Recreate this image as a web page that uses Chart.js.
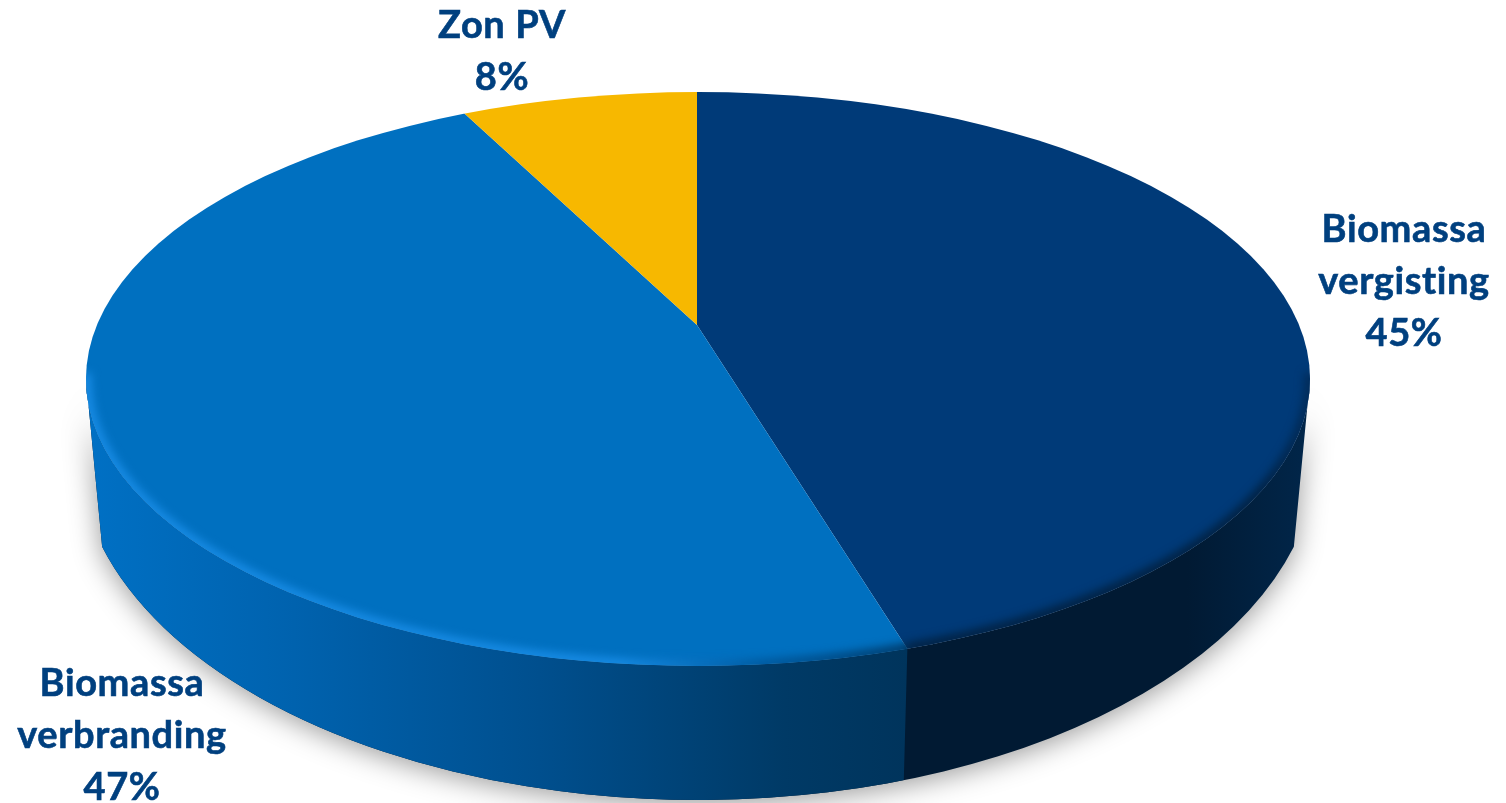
<!DOCTYPE html>
<html>
<head>
    <title>Zon PV en biomassa</title>
    <meta charset="UTF-8">
    <script src="https://cdn.jsdelivr.net/npm/chart.js"></script>
    <style>
        html, body {
            margin: 0;
            background: #fff;
            overflow: hidden;
        }
        canvas {
            display: block;
        }
    </style>
</head>
<body>
<canvas id="pieChart" width="1506" height="803"></canvas>

<script>
    const categories = ['Biomassa vergisting', 'Biomassa verbranding', 'Zon PV'];
    const shares = [45, 47, 8];
    const sliceColors = ['#003a78', '#0070c0', '#f7b800'];

    // each label is split over lines like in the picture
    const labelLines = [['Biomassa', 'vergisting'], ['Biomassa', 'verbranding'], ['Zon PV']];
    const labelSpots = [[1404, 242], [122, 696], [502, 38]];

    // tilted look: the slices meet at the apex, the rim is an ellipse around it
    const apex = { x: 697, y: 325 };
    const tilt = 0.5;
    const rim = { x: 698, y: 379, rx: 612, ry: 287 };
    const base = { x: 698, y: 450, rx: 620, ry: 350, start: 0.28 };
    const seamLean = 0.98;

    function wallPath(ctx) {
        ctx.beginPath();
        ctx.moveTo(rim.x + rim.rx, rim.y);
        ctx.ellipse(base.x, base.y, base.rx, base.ry, 0, base.start, Math.PI - base.start);
        ctx.lineTo(rim.x - rim.rx, rim.y);
        ctx.ellipse(rim.x, rim.y, rim.rx, rim.ry, 0, Math.PI, 0, true);
        ctx.closePath();
    }

    // where the edge of a slice hits the rim
    function rimPoint(angle) {
        const dx = Math.cos(angle);
        const dy = Math.sin(angle) * tilt;
        const ox = apex.x - rim.x;
        const oy = apex.y - rim.y;
        const a = dx * dx / (rim.rx * rim.rx) + dy * dy / (rim.ry * rim.ry);
        const b = 2 * (ox * dx / (rim.rx * rim.rx) + oy * dy / (rim.ry * rim.ry));
        const c = ox * ox / (rim.rx * rim.rx) + oy * oy / (rim.ry * rim.ry) - 1;
        const t = (-b + Math.sqrt(b * b - 4 * a * c)) / (2 * a);
        return { x: apex.x + t * dx, y: apex.y + t * dy };
    }

    const tiltPlugin = {
        id: 'tiltPlugin',
        beforeDatasetsDraw(chart) {
            const ctx = chart.ctx;
            const arcs = chart.getDatasetMeta(0).data;
            const seam = rimPoint(arcs[0].endAngle);
            const seamLowX = base.x + (seam.x - base.x) * seamLean;

            // side wall with its soft shadow
            ctx.save();
            ctx.shadowColor = 'rgba(0, 0, 0, 0.4)';
            ctx.shadowBlur = 28;
            ctx.shadowOffsetY = 4;
            wallPath(ctx);
            const dark = ctx.createLinearGradient(900, 0, 1310, 0);
            dark.addColorStop(0, '#011a33');
            dark.addColorStop(0.7, '#011a33');
            dark.addColorStop(1, '#01264a');
            ctx.fillStyle = dark;
            ctx.fill();
            ctx.restore();

            ctx.save();
            ctx.beginPath();
            ctx.moveTo(0, 0);
            ctx.lineTo(seam.x, 0);
            ctx.lineTo(seam.x, seam.y);
            ctx.lineTo(seamLowX, 803);
            ctx.lineTo(0, 803);
            ctx.closePath();
            ctx.clip();
            wallPath(ctx);
            const light = ctx.createLinearGradient(90, 0, seam.x, 0);
            light.addColorStop(0, '#0070c4');
            light.addColorStop(0.25, '#0062ae');
            light.addColorStop(0.55, '#004f8e');
            light.addColorStop(0.85, '#003a66');
            light.addColorStop(1, '#00345c');
            ctx.fillStyle = light;
            ctx.fill();
            ctx.restore();

            // top face, cut to the rim
            ctx.save();
            ctx.beginPath();
            ctx.ellipse(rim.x, rim.y, rim.rx, rim.ry, 0, 0, Math.PI * 2);
            ctx.clip();
            ctx.translate(apex.x, apex.y);
            ctx.scale(1, tilt);
            ctx.translate(-apex.x, -apex.y);
        },
        afterDatasetsDraw(chart) {
            const ctx = chart.ctx;
            ctx.restore();

            // bevel along the front of the rim
            const arcs = chart.getDatasetMeta(0).data;
            const seam = rimPoint(arcs[0].endAngle);
            ctx.save();
            ctx.beginPath();
            ctx.ellipse(rim.x, rim.y, rim.rx, rim.ry, 0, 0, Math.PI * 2);
            ctx.clip();
            const glow = ctx.createLinearGradient(86, 0, 1310, 0);
            const stop = x => (x - 86) / (1310 - 86);
            glow.addColorStop(0, '#1a8ee8');
            glow.addColorStop(stop(620), '#1a8ee8');
            glow.addColorStop(stop(760), '#00589c');
            glow.addColorStop(stop(seam.x - 1), '#003560');
            glow.addColorStop(stop(seam.x), '#011f3d');
            glow.addColorStop(stop(1260), '#011f3d');
            glow.addColorStop(1, '#012a55');
            ctx.filter = 'blur(5px)';
            ctx.strokeStyle = glow;
            ctx.lineWidth = 10;
            ctx.beginPath();
            ctx.ellipse(rim.x, rim.y, rim.rx, rim.ry, 0, -0.02, Math.PI + 0.02);
            ctx.stroke();
            ctx.restore();
        },
        afterDraw(chart) {
            const ctx = chart.ctx;
            ctx.save();
            ctx.font = 'bold 38px Lato';
            ctx.letterSpacing = '0.6px';
            ctx.fillStyle = '#00407f';
            ctx.strokeStyle = '#00407f';
            ctx.lineWidth = 0.6;
            ctx.textAlign = 'center';
            categories.forEach((name, i) => {
                const lines = labelLines[i].concat(shares[i] + '%');
                lines.forEach((line, j) => {
                    ctx.fillText(line, labelSpots[i][0], labelSpots[i][1] + j * 52);
                    ctx.strokeText(line, labelSpots[i][0], labelSpots[i][1] + j * 52);
                });
            });
            ctx.restore();
        }
    };

    new Chart(document.getElementById('pieChart').getContext('2d'), {
        type: 'pie',
        data: {
            labels: categories,
            datasets: [{
                data: shares,
                backgroundColor: sliceColors,
                borderWidth: 0,
                clip: false
            }]
        },
        options: {
            responsive: false,
            animation: false,
            radius: 760,
            layout: {
                padding: { left: 0, right: 112, top: 0, bottom: 153 }
            },
            events: [],
            plugins: {
                legend: { display: false },
                tooltip: { enabled: false }
            }
        },
        plugins: [tiltPlugin]
    });
</script>
</body>
</html>
